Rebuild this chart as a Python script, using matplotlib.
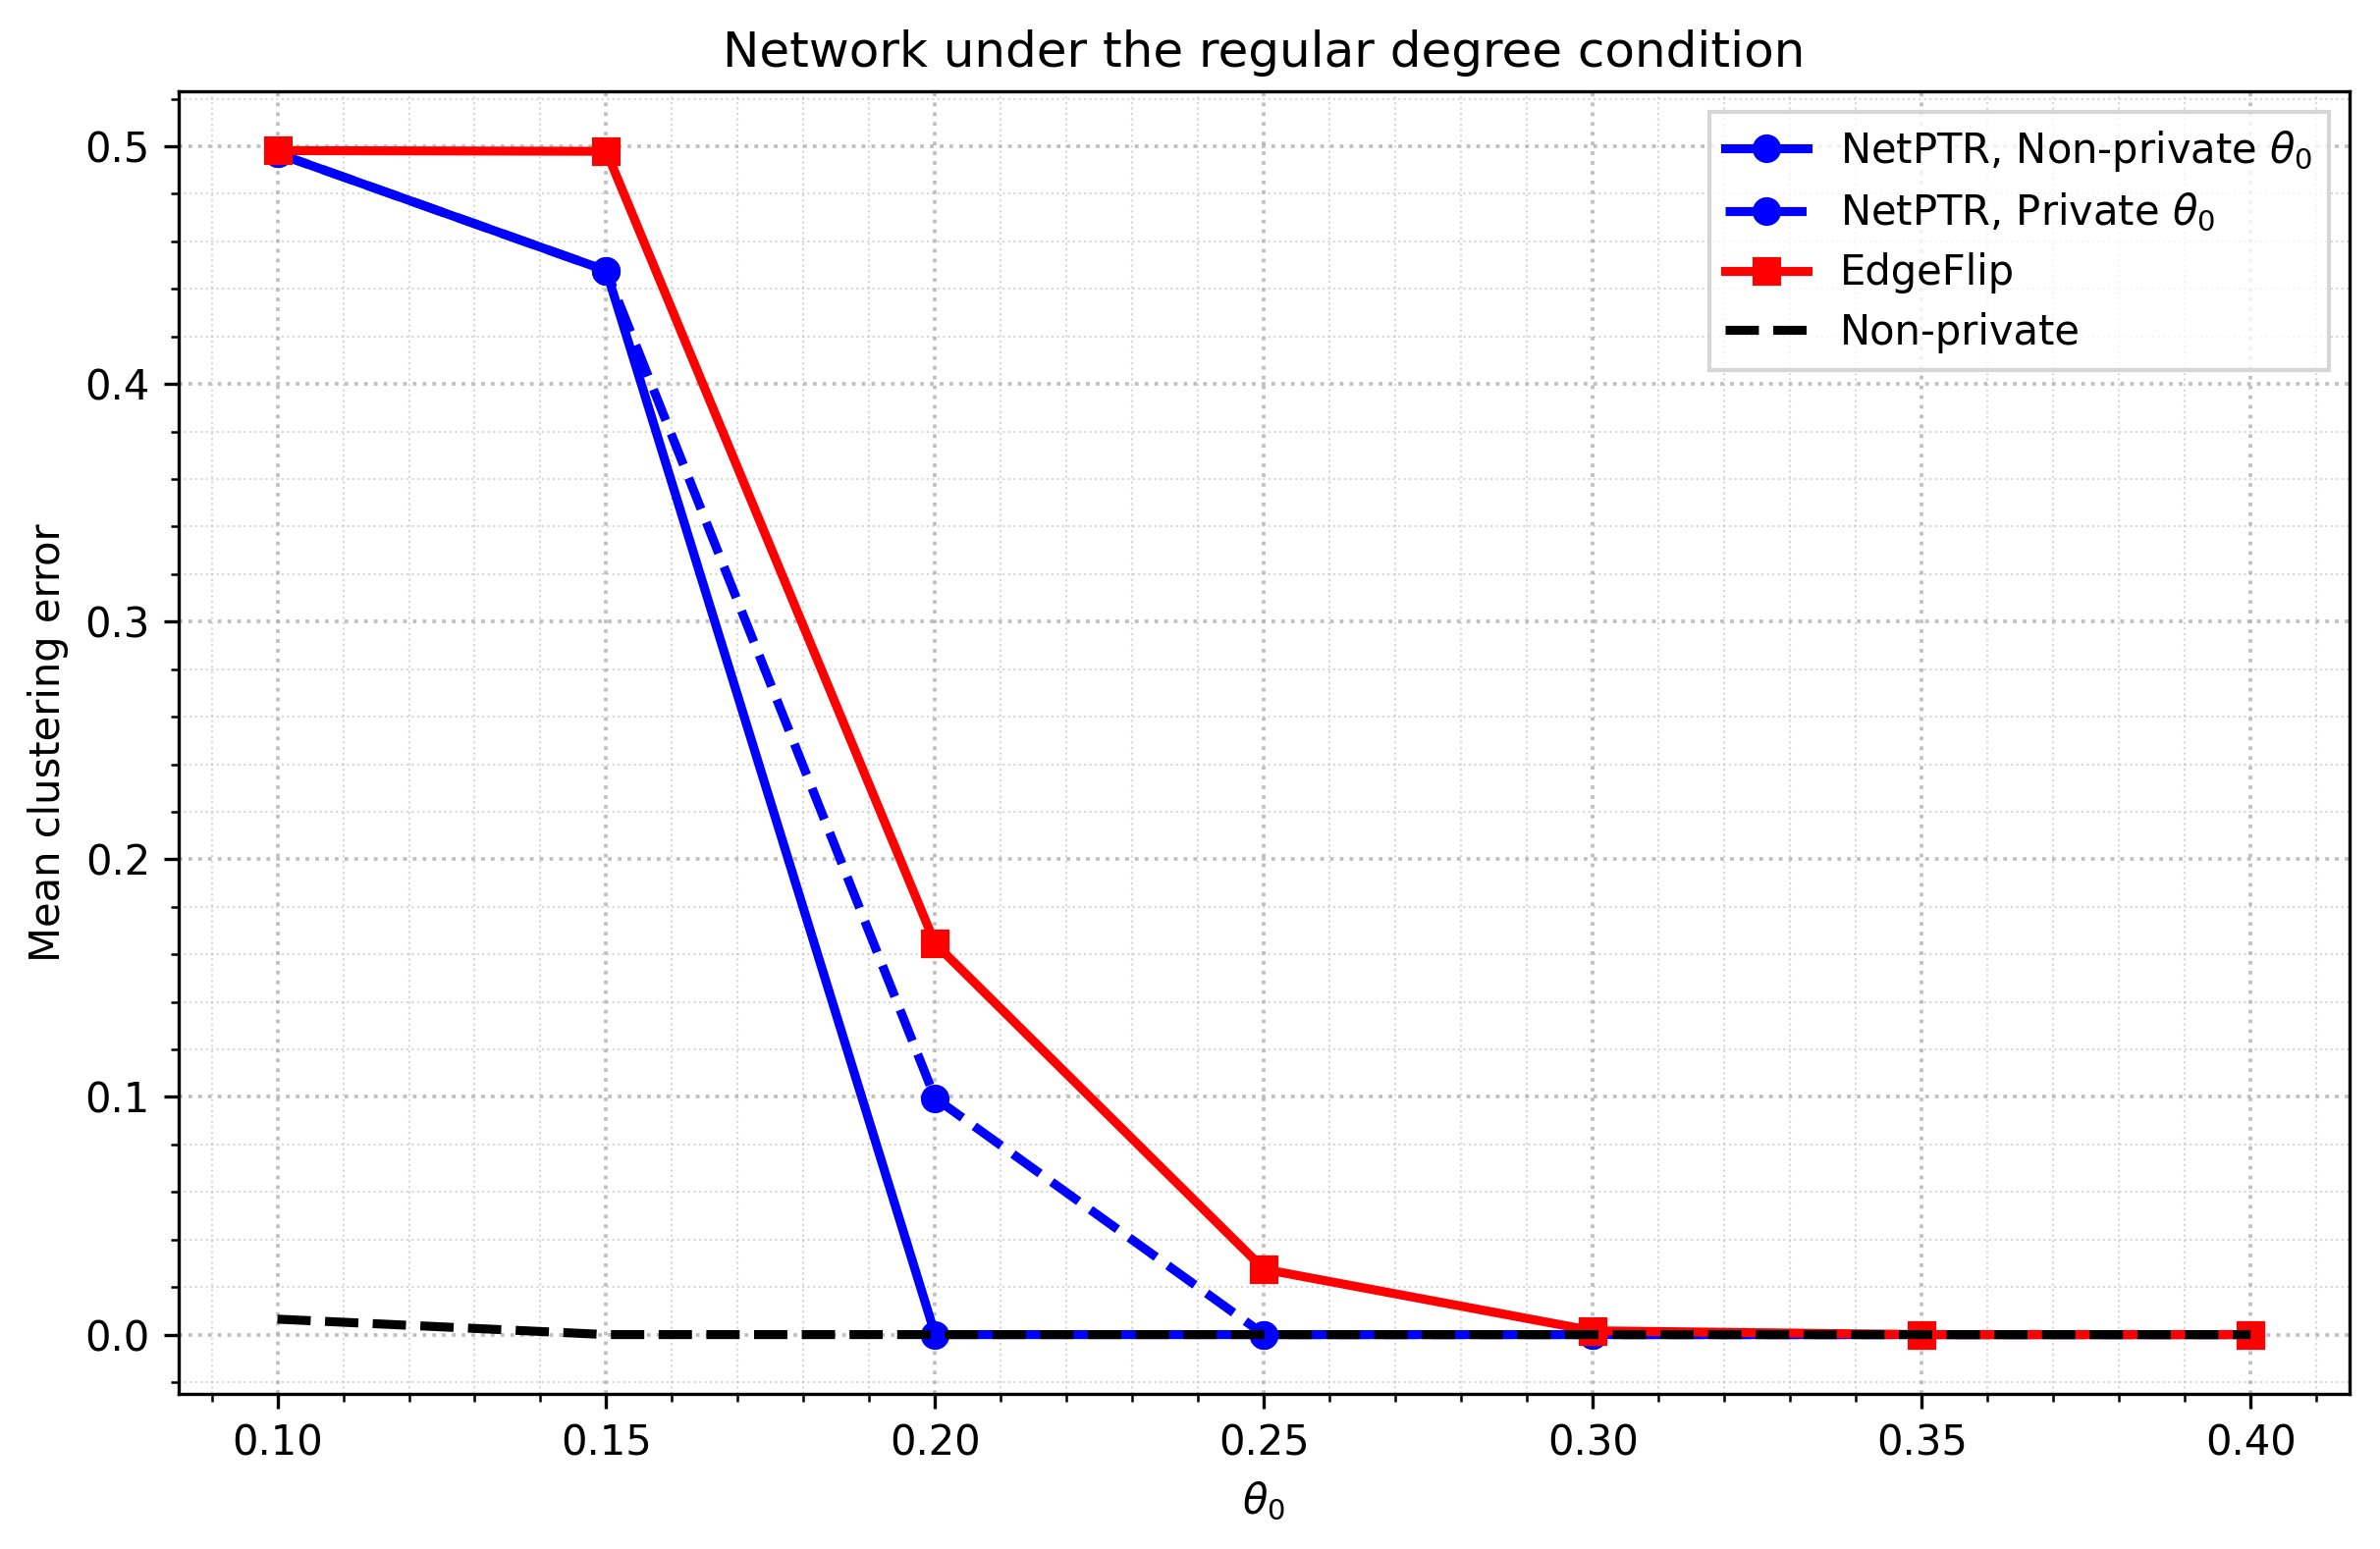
import matplotlib
matplotlib.use("Agg")
import matplotlib.pyplot as plt

theta = [0.10, 0.15, 0.20, 0.25, 0.30, 0.35, 0.40]
netptr_nonpriv = [0.497, 0.4477, 0.0, 0.0, 0.0, 0.0, 0.0]
netptr_priv = [0.497, 0.4477, 0.0995, 0.0, 0.0, 0.0, 0.0]
edgeflip = [0.4982, 0.4979, 0.1645, 0.0275, 0.0016, 0.0, 0.0]
nonprivate = [0.0065, 0.0, 0.0, 0.0, 0.0, 0.0, 0.0]

fig = plt.figure(figsize=(8.08, 5.26), dpi=300)
ax = fig.add_axes([0.0751, 0.1002, 0.912, 0.8408])

ax.plot(theta, netptr_nonpriv, color='blue', marker='o', linestyle='-', linewidth=2.2,
        markersize=6, label=r'NetPTR, Non-private $\theta_0$')
ax.plot(theta, netptr_priv, color='blue', marker='o', linestyle='--', linewidth=2.2,
        markersize=6, label=r'NetPTR, Private $\theta_0$')
ax.plot(theta, edgeflip, color='red', marker='s', linestyle='-', linewidth=2.2,
        markersize=6, label='EdgeFlip')
ax.plot(theta, nonprivate, color='black', linestyle='--', linewidth=2.2,
        label='Non-private')

ax.set_title('Network under the regular degree condition', fontsize=12)
ax.set_xlabel(r'$\theta_0$', fontsize=10)
ax.set_ylabel('Mean clustering error', fontsize=10)
ax.set_xticks([0.10, 0.15, 0.20, 0.25, 0.30, 0.35, 0.40])
ax.set_xticklabels(['0.10', '0.15', '0.20', '0.25', '0.30', '0.35', '0.40'])
ax.tick_params(labelsize=10)
ax.minorticks_on()
ax.grid(True, which='major', linestyle=':', linewidth=0.9, color='#b0b0b0', alpha=0.8)
ax.grid(True, which='minor', linestyle=':', linewidth=0.5, color='#b0b0b0', alpha=0.5)
ax.legend(loc='upper right', fontsize=10, fancybox=False, labelspacing=0.45)

fig.savefig('out.png', dpi=300)
